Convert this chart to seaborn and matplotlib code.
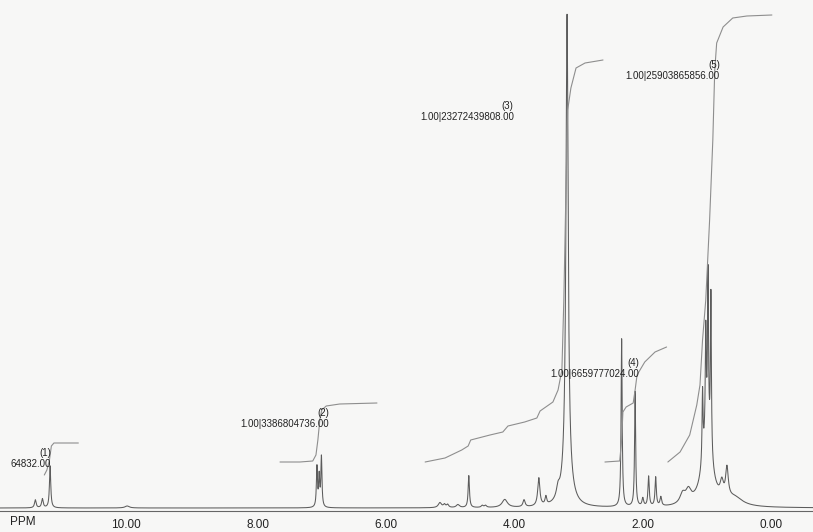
import numpy as np
import pandas as pd
import matplotlib
matplotlib.use("Agg")
import matplotlib.pyplot as plt
import seaborn as sns
from matplotlib.ticker import FixedLocator, MultipleLocator

# ---------------- data ----------------
# peaks: chemical shift (ppm), height (a.u.), half width (ppm)
peak_ppm = [11.64, 11.53, 11.41, 10.21,
            7.255, 7.22, 7.185,
            5.34, 5.27, 5.22, 5.06, 4.89, 4.68, 4.63, 4.33, 4.03,
            3.80, 3.69, 3.50, 3.36, 3.36,
            2.51, 2.30, 2.18, 2.09, 1.98, 1.90, 1.56, 1.47,
            1.25, 1.20, 1.165, 1.12, 1.18,
            0.95, 0.87, 0.75]
peak_height = [8, 9, 42, 2,
               40, 30, 50,
               5, 3, 3, 3, 32, 2, 2, 8, 7,
               28, 8, 10, 455, 38,
               168, 115, 8, 30, 29, 9, 10, 12,
               70, 105, 160, 160, 70,
               15, 30, 8]
peak_width = [0.015, 0.015, 0.012, 0.04,
              0.010, 0.010, 0.010,
              0.03, 0.02, 0.02, 0.03, 0.012, 0.02, 0.02, 0.05, 0.02,
              0.02, 0.015, 0.03, 0.02, 0.07,
              0.010, 0.010, 0.015, 0.012, 0.012, 0.015, 0.05, 0.05,
              0.009, 0.009, 0.009, 0.009, 0.09,
              0.03, 0.025, 0.15]

# integral curves (ppm, level)
int1_ppm = [11.50, 11.46, 11.42, 11.39, 11.35, 10.97]
int1_val = [33, 38, 48, 62, 65, 65]
int2_ppm = [7.83, 7.52, 7.32, 7.27, 7.24, 7.21, 7.18, 7.11, 6.90, 6.32]
int2_val = [46, 46, 47, 53, 68, 88, 98, 102, 104, 105]
int3_ppm = [5.57, 5.26, 5.00, 4.90, 4.86, 4.56, 4.36, 4.28, 4.02, 3.83, 3.78,
            3.58, 3.50, 3.44, 3.41, 3.38, 3.35, 3.30, 3.22, 3.08, 2.80]
int3_val = [46, 50, 58, 62, 68, 73, 76, 82, 86, 90, 97,
            106, 118, 138, 208, 308, 398, 420, 440, 445, 448]
int4_ppm = [2.77, 2.54, 2.51, 2.49, 2.44, 2.33, 2.30, 2.27, 2.15, 1.99, 1.81]
int4_val = [46, 47, 68, 96, 101, 105, 118, 133, 146, 156, 161]
int5_ppm = [1.79, 1.60, 1.45, 1.34, 1.29, 1.25, 1.20, 1.14, 1.09, 1.06, 1.03,
            0.93, 0.78, 0.56, 0.17]
int5_val = [46, 56, 73, 103, 123, 168, 208, 288, 368, 438, 465,
            481, 490, 492, 493]

int_labels = ["(1)", "(2)", "(3)", "(4)", "(5)"]
int_values = ["64832.00", "1.00|3386804736.00", "1.00|23272439808.00",
              "1.00|6659777024.00", "1.00|25903865856.00"]
label_ppm = [11.39, 7.07, 4.19, 2.24, 0.98]
label_level = [55, 95, 402, 145, 443]

tick_values = [0, 2, 4, 6, 8, 10]
tick_labels = ["0.00", "2.00", "4.00", "6.00", "8.00", "10.00"]

# ---------------- drawing ----------------
sns.set_theme(style="white")
plt.rcParams["font.family"] = ["Liberation Sans", "DejaVu Sans"]

bg = "#f7f7f6"
fig = plt.figure(figsize=(8.13, 5.32), dpi=100, facecolor=bg)
ax = fig.add_axes([0, 21 / 532, 1, 511 / 532])
ax.set_facecolor(bg)

ppm = np.linspace(12.3, -0.6, 30000)
spec = np.zeros_like(ppm)
for c, h, w in zip(peak_ppm, peak_height, peak_width):
    spec += h / (1 + ((ppm - c) / w) ** 2)
df = pd.DataFrame({"ppm": ppm, "intensity": spec})
sns.lineplot(data=df, x="ppm", y="intensity", ax=ax, color="#5c5c5c",
             linewidth=0.75, estimator=None, sort=False)

int_col = "#8e8e8e"
for xs, ys in [(int1_ppm, int1_val), (int2_ppm, int2_val), (int3_ppm, int3_val),
               (int4_ppm, int4_val), (int5_ppm, int5_val)]:
    sns.lineplot(x=xs, y=ys, ax=ax, color=int_col, linewidth=0.8,
                 estimator=None, sort=False)

for lab, val, xp, yl in zip(int_labels, int_values, label_ppm, label_level):
    ax.text(xp, yl, lab, ha="right", va="center", fontsize=7, color="#222222")
    ax.text(xp, yl - 11, val, ha="right", va="center", fontsize=7, color="#222222")

ax.set_xlim(12.19, -0.47)
ax.set_ylim(-3, 508)
ax.set_xlabel("")
ax.set_ylabel("")
ax.set_yticks([])
for s in ["left", "right", "top"]:
    ax.spines[s].set_visible(False)
ax.spines["bottom"].set_color("#666666")
ax.spines["bottom"].set_linewidth(0.8)

ax.xaxis.set_major_locator(FixedLocator(tick_values))
ax.set_xticklabels(tick_labels)
ax.xaxis.set_minor_locator(MultipleLocator(0.1))
ax.tick_params(axis="x", which="major", direction="out", length=5, width=0.7,
               color="#666666", labelcolor="#222222", labelsize=8.5, pad=0.5)
ax.tick_params(axis="x", which="minor", direction="out", length=3.5, width=0.6,
               color="#777777")
for lbl in ax.get_xticklabels():
    lbl.set_ha("right")

fig.text(10 / 813, 4 / 532, "PPM", ha="left", va="bottom", fontsize=8.5,
         color="#222222")

fig.savefig("out.png", dpi=100, facecolor=bg)
